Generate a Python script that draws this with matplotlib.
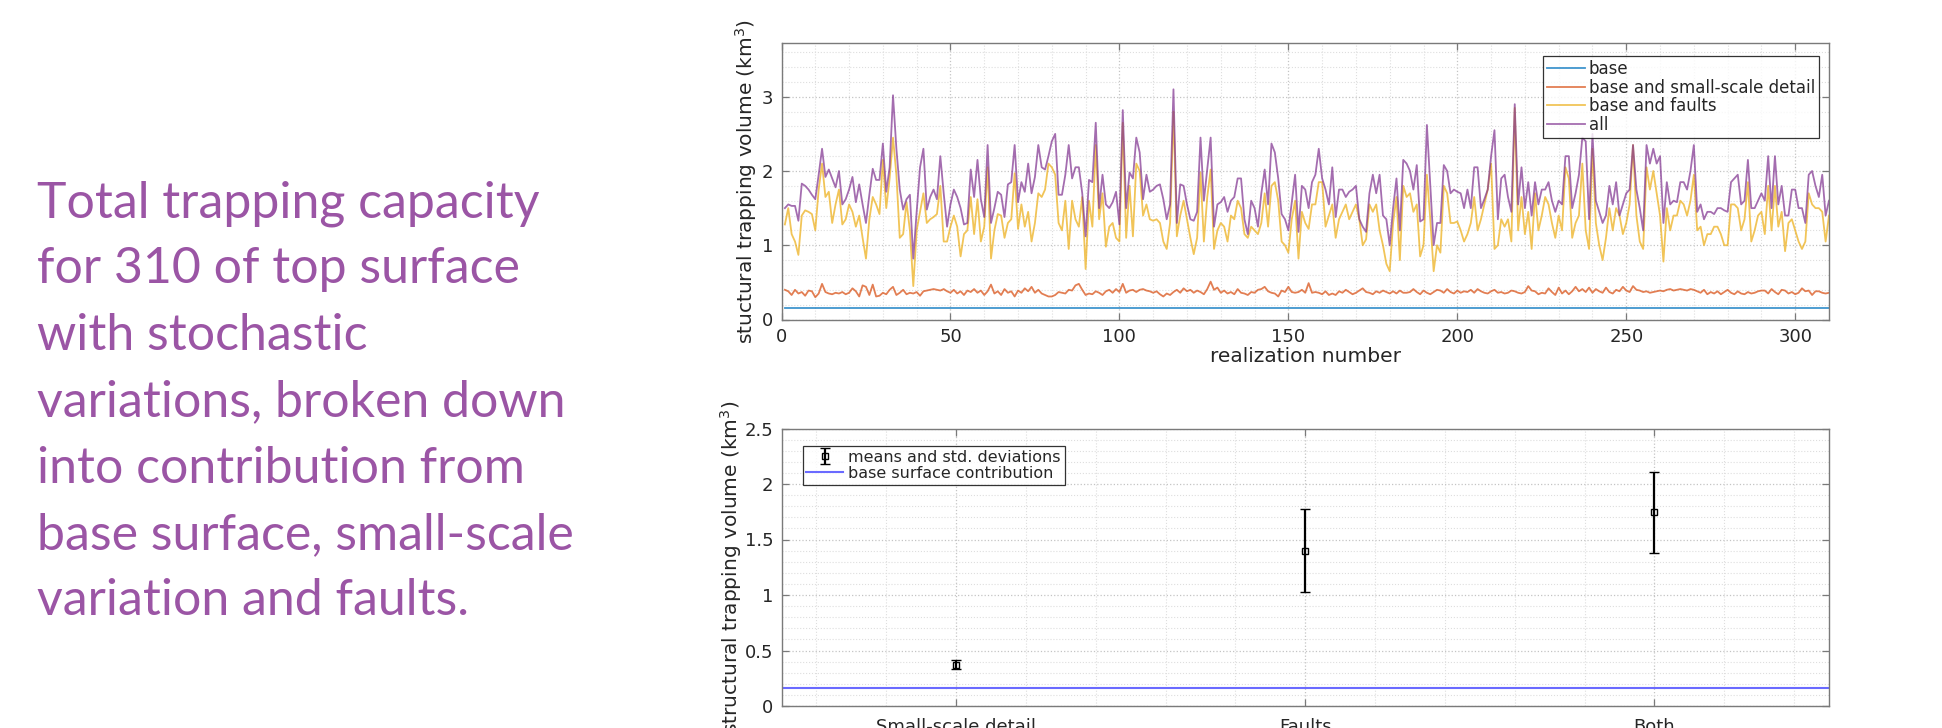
import matplotlib
matplotlib.use('Agg')
import matplotlib.pyplot as plt
from matplotlib.ticker import MultipleLocator, FuncFormatter
from matplotlib import font_manager
import numpy as np

# realization index (1..310)
realization = np.arange(1, 311)
base_volume = 0.16

# base and small-scale detail
small_scale = [
    0.40, 0.38, 0.33, 0.40, 0.35, 0.37, 0.32, 0.39, 0.38, 0.30,
    0.35, 0.48, 0.37, 0.35, 0.34, 0.36, 0.35, 0.37, 0.34, 0.36,
    0.42, 0.38, 0.31, 0.46, 0.44, 0.33, 0.47, 0.31, 0.32, 0.36,
    0.34, 0.40, 0.44, 0.33, 0.36, 0.40, 0.34, 0.36, 0.35, 0.37,
    0.32, 0.38, 0.39, 0.40, 0.41, 0.40, 0.39, 0.41, 0.38, 0.36,
    0.40, 0.35, 0.38, 0.33, 0.39, 0.37, 0.41, 0.36, 0.39, 0.33,
    0.38, 0.47, 0.35, 0.38, 0.33, 0.41, 0.36, 0.38, 0.31, 0.39,
    0.36, 0.42, 0.38, 0.44, 0.36, 0.40, 0.35, 0.33, 0.31, 0.31,
    0.33, 0.37, 0.36, 0.35, 0.40, 0.39, 0.46, 0.48, 0.40, 0.33,
    0.35, 0.34, 0.38, 0.36, 0.33, 0.38, 0.40, 0.36, 0.41, 0.37,
    0.48, 0.36, 0.39, 0.40, 0.37, 0.40, 0.41, 0.39, 0.38, 0.36,
    0.38, 0.34, 0.31, 0.35, 0.33, 0.37, 0.40, 0.36, 0.42, 0.38,
    0.40, 0.36, 0.39, 0.37, 0.34, 0.41, 0.51, 0.40, 0.43, 0.36,
    0.39, 0.35, 0.37, 0.34, 0.41, 0.36, 0.35, 0.33, 0.37, 0.36,
    0.40, 0.41, 0.44, 0.38, 0.36, 0.35, 0.31, 0.39, 0.37, 0.44,
    0.37, 0.36, 0.37, 0.40, 0.36, 0.49, 0.36, 0.37, 0.36, 0.34,
    0.38, 0.33, 0.35, 0.33, 0.38, 0.36, 0.40, 0.37, 0.34, 0.36,
    0.39, 0.42, 0.37, 0.36, 0.34, 0.38, 0.36, 0.39, 0.37, 0.35,
    0.38, 0.35, 0.39, 0.36, 0.36, 0.37, 0.41, 0.37, 0.34, 0.39,
    0.36, 0.34, 0.37, 0.40, 0.39, 0.36, 0.41, 0.37, 0.35, 0.39,
    0.36, 0.38, 0.37, 0.40, 0.36, 0.41, 0.38, 0.36, 0.35, 0.38,
    0.40, 0.36, 0.37, 0.35, 0.36, 0.39, 0.38, 0.36, 0.35, 0.37,
    0.45, 0.39, 0.38, 0.34, 0.36, 0.35, 0.42, 0.37, 0.33, 0.43,
    0.35, 0.39, 0.34, 0.38, 0.44, 0.38, 0.41, 0.37, 0.43, 0.36,
    0.41, 0.38, 0.36, 0.43, 0.37, 0.35, 0.40, 0.38, 0.44, 0.39,
    0.37, 0.45, 0.40, 0.39, 0.37, 0.38, 0.36, 0.37, 0.38, 0.39,
    0.38, 0.40, 0.41, 0.39, 0.40, 0.41, 0.40, 0.39, 0.41, 0.40,
    0.38, 0.36, 0.40, 0.34, 0.37, 0.35, 0.38, 0.34, 0.37, 0.40,
    0.36, 0.34, 0.38, 0.35, 0.34, 0.37, 0.35, 0.36, 0.38, 0.39,
    0.39, 0.35, 0.41, 0.37, 0.34, 0.40, 0.39, 0.35, 0.37, 0.34,
    0.36, 0.42, 0.38, 0.39, 0.33, 0.38, 0.38, 0.36, 0.35, 0.36,
]

# base and faults
with_faults = [
    1.28, 1.50, 1.15, 1.05, 0.87, 1.40, 1.47, 1.45, 1.42, 1.20,
    1.75, 2.10, 1.65, 1.72, 1.30, 1.55, 1.75, 1.28, 1.35, 1.55,
    1.45, 1.25, 1.40, 1.10, 0.82, 1.35, 1.65, 1.55, 1.42, 2.15,
    1.50, 1.90, 2.45, 1.95, 1.10, 1.15, 1.58, 1.20, 0.45, 1.20,
    1.45, 1.70, 1.30, 1.35, 1.38, 1.42, 1.80, 1.05, 1.05, 1.25,
    1.40, 1.25, 0.85, 1.15, 1.20, 1.65, 1.15, 1.62, 1.05, 1.25,
    2.05, 0.82, 1.20, 1.42, 1.40, 1.10, 1.30, 1.35, 1.97, 1.22,
    1.55, 1.25, 1.45, 1.05, 1.30, 1.70, 1.65, 1.75, 2.10, 2.05,
    1.95, 1.30, 1.20, 1.60, 0.95, 1.60, 1.35, 1.25, 1.65, 0.68,
    1.60, 1.25, 2.35, 1.35, 1.70, 0.98, 1.25, 1.30, 1.10, 1.05,
    2.65, 1.10, 1.80, 1.12, 2.10, 2.00, 1.40, 1.55, 1.35, 1.33,
    1.35, 1.30, 1.05, 0.95, 1.30, 2.80, 1.12, 1.40, 1.60, 1.35,
    1.10, 0.88, 1.10, 1.98, 1.05, 1.65, 2.02, 0.95, 1.20, 1.30,
    1.25, 1.05, 1.40, 1.35, 1.60, 1.50, 1.15, 1.10, 1.25, 1.20,
    1.15, 1.30, 1.70, 1.25, 1.80, 1.85, 1.60, 1.05, 1.00, 0.90,
    1.35, 1.60, 0.82, 1.45, 1.30, 1.22, 1.55, 1.55, 1.85, 1.85,
    1.25, 1.40, 1.55, 1.10, 1.35, 1.45, 1.55, 1.35, 1.45, 1.55,
    1.35, 1.00, 1.08, 1.55, 1.45, 1.55, 1.20, 1.00, 0.75, 0.65,
    1.30, 1.65, 0.80, 1.80, 1.65, 1.70, 1.45, 1.55, 0.85, 1.00,
    1.95, 1.35, 0.65, 1.00, 0.90, 1.80, 1.70, 1.30, 1.30, 1.32,
    1.20, 1.05, 1.15, 1.30, 1.65, 1.20, 1.35, 1.55, 1.75, 2.10,
    0.95, 1.00, 1.35, 1.25, 1.35, 1.05, 2.85, 1.20, 1.65, 1.15,
    1.45, 0.95, 1.70, 1.20, 1.40, 1.65, 1.55, 1.30, 1.10, 1.40,
    1.20, 2.05, 1.90, 1.10, 1.30, 1.40, 2.10, 1.20, 0.95, 2.30,
    1.30, 1.00, 0.80, 1.10, 1.50, 1.20, 1.50, 1.40, 1.15, 1.30,
    1.55, 2.35, 1.40, 1.05, 0.95, 2.05, 1.75, 2.00, 1.70, 1.40,
    0.78, 1.50, 1.20, 1.40, 1.40, 1.60, 1.55, 1.40, 1.60, 1.95,
    1.20, 1.25, 1.00, 1.15, 1.15, 1.25, 1.25, 1.15, 1.00, 1.00,
    1.55, 1.55, 1.50, 1.20, 1.35, 1.85, 1.05, 1.20, 1.40, 1.45,
    1.15, 1.80, 1.20, 1.80, 1.25, 1.45, 0.92, 1.30, 1.35, 1.20,
    1.05, 0.95, 1.05, 1.70, 1.55, 1.50, 1.50, 1.45, 1.05, 1.40,
]

# all contributions
all_vol = [
    1.50, 1.55, 1.53, 1.53, 1.33, 1.83, 1.80, 1.75, 1.68, 1.62,
    1.95, 2.30, 1.92, 2.02, 1.90, 1.78, 2.00, 1.55, 1.62, 1.75,
    1.92, 1.58, 1.82, 1.55, 1.30, 1.68, 2.03, 1.88, 1.88, 2.37,
    1.72, 2.05, 3.02, 2.30, 1.75, 1.48, 1.62, 1.68, 0.82, 1.45,
    2.05, 2.30, 1.48, 1.65, 1.75, 1.62, 2.20, 1.70, 1.25, 1.55,
    1.75, 1.65, 1.50, 1.28, 1.30, 2.02, 1.65, 2.15, 1.62, 1.38,
    2.35, 1.30, 1.50, 1.72, 1.68, 1.38, 1.82, 1.85, 2.35, 1.58,
    1.85, 1.72, 2.10, 1.70, 1.92, 2.35, 2.05, 2.02, 2.20, 2.40,
    2.50, 1.68, 1.68, 1.95, 2.35, 1.90, 2.05, 2.05, 1.70, 1.12,
    1.88, 1.85, 2.65, 1.50, 1.95, 1.55, 1.50, 1.58, 1.72, 1.28,
    2.82, 1.50, 1.98, 1.90, 2.45, 2.25, 1.62, 1.95, 1.72, 1.75,
    1.80, 1.82, 1.62, 1.35, 1.55, 3.10, 1.30, 1.82, 1.80, 1.55,
    1.35, 1.33, 1.45, 2.45, 1.60, 2.02, 2.45, 1.25, 1.55, 1.58,
    1.65, 1.45, 1.60, 1.65, 1.90, 1.90, 1.35, 1.15, 1.60, 1.50,
    1.25, 1.70, 2.02, 1.55, 2.37, 2.25, 1.90, 1.42, 1.35, 1.20,
    1.58, 1.95, 1.18, 1.80, 1.75, 1.50, 1.85, 1.95, 2.30, 1.90,
    1.75, 1.55, 2.05, 1.38, 1.75, 1.75, 1.65, 1.72, 1.75, 1.80,
    1.35, 1.25, 1.18, 1.70, 1.95, 1.70, 1.95, 1.40, 1.35, 1.00,
    1.50, 1.90, 1.20, 2.15, 2.10, 2.00, 1.75, 2.08, 1.32, 1.35,
    2.62, 1.80, 1.00, 1.30, 1.30, 2.08, 2.00, 1.70, 1.75, 1.72,
    1.70, 1.50, 1.75, 1.50, 2.05, 2.05, 1.50, 1.62, 1.75, 2.20,
    2.55, 1.35, 1.90, 1.95, 1.65, 1.45, 2.90, 1.55, 2.05, 1.50,
    1.85, 1.40, 1.85, 1.55, 1.75, 1.75, 1.85, 1.60, 1.45, 1.60,
    1.55, 2.20, 2.20, 1.50, 1.70, 1.95, 2.45, 2.40, 1.35, 2.50,
    1.60, 1.45, 1.30, 1.40, 1.80, 1.55, 1.85, 1.40, 1.55, 1.70,
    1.75, 2.35, 1.75, 1.50, 1.20, 2.35, 2.10, 2.30, 2.10, 2.20,
    1.30, 1.85, 1.55, 1.60, 1.58, 1.85, 1.85, 1.75, 2.00, 2.35,
    1.45, 1.55, 1.35, 1.45, 1.45, 1.42, 1.50, 1.50, 1.47, 1.45,
    1.85, 1.90, 1.95, 1.55, 1.60, 2.15, 1.50, 1.50, 1.60, 1.70,
    1.60, 2.20, 1.50, 2.20, 1.55, 1.80, 1.40, 1.40, 1.75, 1.75,
    1.50, 1.50, 1.30, 1.95, 2.00, 1.80, 1.65, 1.95, 1.40, 1.60,
]

# summary per variation type
categories = ['Small-scale detail', 'Faults', 'Both']
cat_means = [0.37, 1.40, 1.745]
cat_stds = [0.04, 0.375, 0.365]

caption_lines = [
    'Total trapping capacity',
    'for 310 of top surface',
    'with stochastic',
    'variations, broken down',
    'into contribution from',
    'base surface, small-scale',
    'variation and faults.',
]

W, H = 1942, 728
fig = plt.figure(figsize=(W / 100, H / 100), dpi=100)

# caption on the left
names = {f.name for f in font_manager.fontManager.ttflist}
if 'Liberation Sans Narrow' in names:
    cap_font, cap_size = 'Liberation Sans Narrow', 37
else:
    cap_font, cap_size = 'Lato', 36
for i, line in enumerate(caption_lines):
    y_px = 217 + i * 66.4
    fig.text(37 / W, 1 - y_px / H, line, fontsize=cap_size, family=cap_font,
             color='#9b55a5', va='baseline', ha='left')

spine_col = '#7a7a7a'
txt_col = '#262626'
fmt_g = FuncFormatter(lambda v, p: f'{v:g}')


def style_axes(ax):
    for s in ax.spines.values():
        s.set_color(spine_col)
        s.set_linewidth(1.0)
    ax.tick_params(which='major', direction='in', top=True, right=True,
                   length=5, width=0.9, color=spine_col, labelcolor=txt_col,
                   labelsize=13, pad=6)
    ax.tick_params(which='minor', length=0)
    ax.grid(which='major', linestyle=':', color='#c4c4c4', linewidth=0.9)
    ax.grid(which='minor', linestyle=':', color='#dedede', linewidth=0.8)
    ax.set_axisbelow(True)


left = 781.5 / W
width = (1829 - 781.5) / W

# ---- top: volume per realization
ax1 = fig.add_axes([left, 1 - 319.5 / H, width, (319.5 - 43.3) / H])
ax1.plot(realization, np.full(len(realization), base_volume), color='#0072BD',
         lw=1.3, alpha=0.75, label='base')
ax1.plot(realization, small_scale, color='#D95319', lw=1.3, alpha=0.75,
         label='base and small-scale detail')
ax1.plot(realization, with_faults, color='#EDB120', lw=1.3, alpha=0.75,
         label='base and faults')
ax1.plot(realization, all_vol, color='#7E2F8E', lw=1.3, alpha=0.7, label='all')
ax1.set_xlim(0, 310)
ax1.set_ylim(0, 3.72)
ax1.xaxis.set_major_locator(MultipleLocator(50))
ax1.xaxis.set_minor_locator(MultipleLocator(10))
ax1.yaxis.set_major_locator(MultipleLocator(1))
ax1.yaxis.set_minor_locator(MultipleLocator(0.2))
style_axes(ax1)
ax1.set_xlabel('realization number', fontsize=14.5, color=txt_col, labelpad=1)
ax1.set_ylabel('stuctural trapping volume (km$^3$)', fontsize=14.5, color=txt_col)
ax1.yaxis.set_label_coords(-0.0215, 0.5)
leg1 = ax1.legend(loc='upper right', bbox_to_anchor=(1 - 10 / 1047.5, 1 - 12.4 / 276.2),
                  borderaxespad=0, fontsize=12, frameon=True, fancybox=False,
                  handlelength=2.3, handletextpad=0.2, labelspacing=0.04,
                  borderpad=0.25)
leg1.get_frame().set_edgecolor('black')
leg1.get_frame().set_linewidth(0.9)
for t in leg1.get_texts():
    t.set_color(txt_col)

# ---- bottom: means and std. deviations
ax2 = fig.add_axes([left, 1 - 706 / H, width, (706 - 428.5) / H])
pos = np.arange(1, len(categories) + 1)
eb = ax2.errorbar(pos, cat_means, yerr=cat_stds, fmt='s', color='k', mfc='none',
                  ms=5, mew=1.0, capsize=3.5, elinewidth=1.6, capthick=1.6,
                  label='means and std. deviations')
bl = ax2.axhline(base_volume, color='#6a6aff', lw=1.5,
                 label='base surface contribution')
ax2.set_xlim(0.5, 3.5)
ax2.set_ylim(0, 2.5)
ax2.set_xticks(pos)
ax2.set_xticklabels(categories)
ax2.xaxis.set_minor_locator(MultipleLocator(0.2))
ax2.yaxis.set_major_locator(MultipleLocator(0.5))
ax2.yaxis.set_minor_locator(MultipleLocator(0.1))
ax2.yaxis.set_major_formatter(fmt_g)
style_axes(ax2)
ax2.tick_params(axis='x', which='major', pad=9)
ax2.set_ylabel('structural trapping volume (km$^3$)', fontsize=14.5, color=txt_col)
ax2.yaxis.set_label_coords(-0.0358, 0.5)
leg2 = ax2.legend(handles=[eb, bl], loc='upper left',
                  bbox_to_anchor=(21 / 1047.5, 1 - 17.5 / 277.5),
                  borderaxespad=0, fontsize=11.5, frameon=True, fancybox=False,
                  handlelength=2.3, handletextpad=0.3, labelspacing=0.05,
                  borderpad=0.25)
leg2.get_frame().set_edgecolor('black')
leg2.get_frame().set_linewidth(0.9)
for t in leg2.get_texts():
    t.set_color(txt_col)

fig.savefig('out.png', dpi=100)
plt.close()
